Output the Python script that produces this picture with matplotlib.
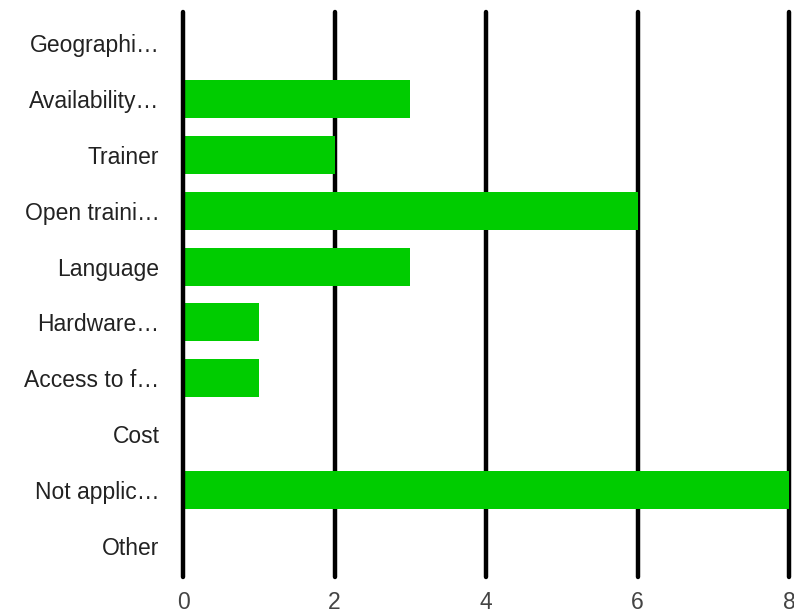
import matplotlib.pyplot as plt

labels = ['Geographi…', 'Availability…', 'Trainer', 'Open traini…', 'Language',
          'Hardware…', 'Access to f…', 'Cost', 'Not applic…', 'Other']
values = [0, 3, 2, 6, 3, 1, 1, 0, 8, 0]
xticks = [0, 2, 4, 6, 8]

plt.rcParams['font.family'] = ['Liberation Sans', 'DejaVu Sans']

fig = plt.figure(figsize=(7.94, 6.15), dpi=100)
ax = fig.add_axes([183 / 794, 38 / 615, 611 / 794, 565 / 615])

pos = list(range(len(labels)))
ax.barh(pos, values, height=0.68, color='#00cc00', zorder=3)

for t in xticks:
    # baseline sits on top of the bars, the other lines behind
    ax.axvline(t, color='black', linewidth=3.2, solid_capstyle='round',
               zorder=4 if t == 0 else 2, clip_on=False)

ax.set_xlim(0, 8 * 611 / 606)
ax.set_ylim(9.55, -0.55)
ax.set_yticks(pos)
ax.set_yticklabels(labels, fontsize=16.5, color='#222222')
ax.set_xticks(xticks)
ax.set_xticklabels([str(t) for t in xticks], fontsize=16.5, color='#444444')
ax.tick_params(axis='y', length=0, pad=17)
ax.tick_params(axis='x', length=0, pad=10)
for s in ax.spines.values():
    s.set_visible(False)

fig.savefig('out.png', dpi=100)
